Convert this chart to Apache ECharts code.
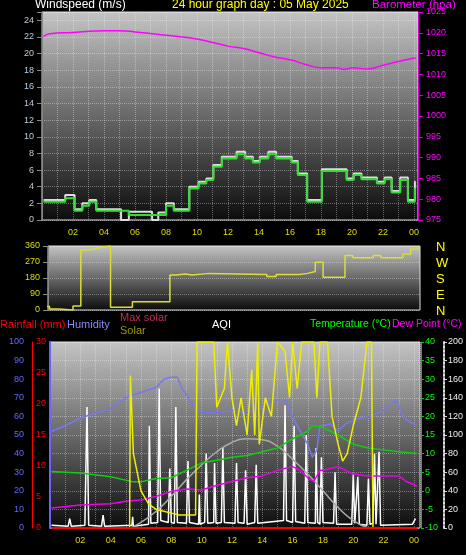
<!DOCTYPE html>
<html><head><meta charset="utf-8">
<script src="https://cdn.jsdelivr.net/npm/echarts@6/dist/echarts.min.js"></script>
<style>html,body{margin:0;background:#000}#c{width:466px;height:555px}</style>
</head><body><div id="c"></div>
<script>
/* ---------- data (hour of day, value) ---------- */
const windAvg = [[0.1,2.2],[1.5,2.6],[2.1,1.1],[2.6,1.7],[3.05,2.2],[3.5,1.1],[5.6,0.6],[7.5,0.6],[8.0,1.7],[8.5,1.1],[9.5,3.8],[10.1,4.4],[10.6,4.8],[11.05,6.4],[11.6,7.4],[12.55,7.9],[13.1,7.4],[13.6,6.9],[14.05,7.4],[14.6,7.9],[15.1,7.4],[16.1,6.9],[16.5,5.4],[17.1,2.2],[18.05,5.9],[19.65,4.8],[20.1,5.4],[20.6,4.9],[21.6,4.4],[22.1,4.9],[22.55,3.3],[23.1,4.8],[23.6,2.2],[24.05,3.8],[24.1,3.8]];
const windGust = [[0.1,2.4],[1.5,3.0],[2.1,1.3],[2.6,2.0],[3.05,2.4],[3.5,1.3],[5.1,0],[5.6,1.0],[7.1,0],[7.5,0.9],[8.0,2.0],[8.5,1.3],[9.5,4.0],[10.1,4.6],[10.6,5.0],[11.05,6.6],[11.6,7.6],[12.55,8.2],[13.1,7.6],[13.6,7.1],[14.05,7.6],[14.6,8.2],[15.1,7.6],[16.1,7.1],[16.5,5.6],[17.1,2.4],[18.05,6.1],[19.65,5.0],[20.1,5.6],[20.6,5.1],[21.6,4.6],[22.1,5.1],[22.55,3.5],[23.1,5.1],[23.6,2.4],[24.05,4.6],[24.1,4.6]];
const baro = [[0.1,1019.1],[0.5,1019.8],[2,1020.1],[4,1020.5],[5,1020.5],[6,1020.2],[8,1019.4],[10,1018.5],[12,1016.8],[13,1016.2],[14,1015.2],[15,1014.2],[16,1013.5],[17,1012.4],[18,1011.6],[19,1011.6],[19.5,1011.2],[20,1011.6],[21,1011.3],[22,1012.2],[23,1013.1],[24.1,1014.0]];
const windDir = [[0.1,19],[0.5,6],[1.1,0],[2.0,22],[2.5,338],[2.9,343],[3.4,352],[3.7,360],[4.4,15],[5.8,47],[8.2,197],[8.6,202],[9.2,197],[9.6,206],[10.7,200],[14.4,188],[15,200],[16.5,206],[17,216],[17.5,268],[18,184],[19.4,306],[19.9,294],[21.2,306],[21.7,294],[23.1,315],[23.6,343],[24.2,343]];
const humidity = [[0.1,52],[1,55],[2,59],[3,62],[4,64],[5,70],[6,73],[7,75.5],[7.5,80],[8,81],[8.4,81],[8.7,75],[9,72],[9.5,65],[10,62],[11,62],[12,63],[13,62],[14,66],[15,69],[15.5,69],[16,60],[16.3,55],[17,45],[17.3,38],[17.6,42],[17.8,55],[18,55],[18.5,56],[19,52],[19.5,56],[20,58],[21,60],[22,63],[22.8,69],[23.2,62],[23.5,58],[24.2,55]];
const temperature = [[0.1,5.2],[2,4.8],[4,3.8],[5.5,2.4],[6,2.4],[7,3.3],[8,3.5],[9,5.5],[10,7.5],[11,8.2],[12,9],[13,9.5],[14,10.5],[15,11.5],[16,14],[17,16],[17.3,17.5],[18,17],[18.5,16],[19,15],[20,12.5],[21,11.5],[22,11],[23,10.5],[24.2,10]];
const dewPoint = [[0.1,-4.6],[2,-3.8],[4,-3.5],[5,-2.8],[6,-2.5],[7,-1.5],[8,-0.2],[9,0.5],[10,0.2],[11,1.5],[12,2.5],[13,3.5],[14,4],[15,5.5],[16,6.5],[16.5,5.5],[17,3.5],[17.4,2.5],[17.8,5.5],[18,5.5],[19,6.5],[20,4.5],[21,4],[22,4],[23,4],[23.5,2.5],[24.2,1.3]];
const solar = [[0.1,0],[5.25,0],[5.3,82],[5.5,40],[6,20],[6.5,13],[7,10],[7.5,9],[8,8],[8.5,7],[9.6,7],[9.7,100],[10.8,100],[11,65],[11.5,75],[11.7,100],[12,70],[12.3,55],[12.6,70],[13,50],[13.3,85],[13.5,50],[13.7,100],[13.8,45],[14.2,70],[14.6,60],[15,100],[15.5,95],[15.8,70],[16,100],[16.3,75],[16.6,100],[17.4,100],[17.6,70],[17.8,100],[18.3,100],[18.6,60],[19,45],[19.3,36],[19.6,40],[20,55],[20.5,70],[20.9,100],[21.2,100],[21.3,0],[24.2,0]];
const maxSolar = [[5.3,0],[6,3],[7,9],[8,17],[9,26],[10,34],[11,41],[12,46],[13,48],[14,47.5],[15,44],[16,37],[17,29],[18,20],[19,11],[20,4],[21,0]];
const rainfall = [[0.1,0],[24.2,0]];
const aqi = [[0.1,3],[1.2,2],[1.3,10],[1.4,2],[2.3,3],[2.44,130],[2.55,3],[3.4,2],[3.5,14],[3.6,2],[5.4,3],[5.45,12],[5.5,2],[6.5,4],[6.55,110],[6.65,5],[7.1,6],[7.2,150],[7.3,8],[7.8,6],[7.9,64],[8.0,6],[8.2,5],[8.3,130],[8.4,6],[9.0,5],[9.1,72],[9.2,6],[9.8,4],[9.85,36],[9.9,4],[10.2,6],[10.3,80],[10.4,5],[10.8,6],[10.85,70],[10.95,5],[11.3,6],[11.4,86],[11.5,6],[12.2,5],[12.3,70],[12.4,6],[12.8,5],[12.9,62],[13.0,4],[13.5,6],[13.6,68],[13.7,5],[15.4,8],[15.5,132],[15.6,8],[16.0,6],[16.1,110],[16.2,7],[16.8,5],[16.9,100],[17.0,6],[17.5,5],[17.55,86],[17.65,6],[17.8,4],[17.9,76],[18.0,6],[18.7,5],[18.8,60],[18.9,4],[19.9,4],[20,58],[20.1,5],[20.2,3],[20.3,55],[20.4,4],[20.9,3],[21,53],[21.1,4],[21.3,5],[21.4,80],[21.5,4],[21.6,3],[21.7,82],[21.8,3],[23.9,4],[24.1,10]];

const hourLabel = v => (v % 2 === 0 && v > 0 ? String(v % 24).padStart(2, '0') : '');
const bg = { type:'linear', x:0, y:0, x2:0, y2:1, colorStops:[{offset:0,color:'#c4c4c4'},{offset:1,color:'#0c0c0c'}] };
const split = { show:true, lineStyle:{ color:'rgba(255,255,255,0.35)', type:'dotted', width:1 } };
const f = 'Liberation Sans';

const chart = echarts.init(document.getElementById('c'));
chart.setOption({
  backgroundColor:'#000',
  animation:false,
  textStyle:{ fontFamily:f },
  graphic:[
    { type:'text', left:35, top:-1, style:{ text:'Windspeed (m/s)', fill:'#fff', font:'12px '+f } },
    { type:'text', left:172, top:-1, style:{ text:'24 hour graph day : 05 May 2025', fill:'#ff0', font:'12px '+f } },
    { type:'text', left:372, top:-1, style:{ text:'Barometer (hpa)', fill:'#f0f', font:'11.5px '+f } },
    { type:'text', left:436, top:239, style:{ text:'N\nW\nS\nE\nN', fill:'#ff0', font:'13px '+f, lineHeight:16 } },
    { type:'text', left:0, top:319, style:{ text:'Rainfall (mm)', fill:'#f00', font:'11px '+f } },
    { type:'text', left:67, top:319, style:{ text:'Humidity', fill:'#88f', font:'11px '+f } },
    { type:'text', left:120, top:312, style:{ text:'Max solar', fill:'#c03050', font:'11px '+f } },
    { type:'text', left:120, top:325, style:{ text:'Solar', fill:'#990', font:'11px '+f } },
    { type:'text', left:212, top:319, style:{ text:'AQI', fill:'#fff', font:'11px '+f } },
    { type:'text', left:310, top:319, style:{ text:'Temperature (°C)', fill:'#0f0', font:'10.5px '+f } },
    { type:'text', left:392, top:319, style:{ text:'Dew Point (°C)', fill:'#f0f', font:'10.5px '+f } }
  ],
  grid:[
    { left:42, right:48, top:12, bottom:335, show:true, backgroundColor:bg, borderColor:'#ddd', borderWidth:1 },
    { left:48, right:46, top:246, bottom:245, show:true, backgroundColor:bg, borderColor:'#ddd', borderWidth:1 },
    { left:50, right:45, top:342, bottom:27, show:true, backgroundColor:bg, borderColor:'#ddd', borderWidth:1 }
  ],
  xAxis:[
    { type:'value', gridIndex:0, min:0, max:24.25, interval:1, axisLine:{show:false}, axisTick:{show:false},
      axisLabel:{ formatter:hourLabel, color:'#dd0', fontSize:9, margin:8, showMaxLabel:false }, splitLine:split },
    { type:'value', gridIndex:1, min:0.4, max:24.2, show:false },
    { type:'value', gridIndex:2, min:0, max:24.4, interval:1, axisLine:{show:false}, axisTick:{show:false},
      axisLabel:{ formatter:hourLabel, color:'#dd0', fontSize:9, margin:8, showMaxLabel:false }, splitLine:split }
  ],
  yAxis:[
    { type:'value', gridIndex:0, min:0, max:25, interval:2, axisLine:{show:true,lineStyle:{color:'#888'}}, axisTick:{show:true,lineStyle:{color:'#888'}},
      axisLabel:{ color:'#bcd', fontSize:9, formatter:v => v > 24 ? '' : v }, splitLine:split },
    { type:'value', gridIndex:0, position:'right', min:975, max:1025, interval:5, axisLine:{show:true,lineStyle:{color:'#c0c'}}, axisTick:{show:true,lineStyle:{color:'#c0c'}},
      axisLabel:{ color:'#f0f', fontSize:9, formatter:v => String(v) }, splitLine:{show:false} },
    { type:'value', gridIndex:1, min:0, max:360, interval:90, axisLine:{show:true,lineStyle:{color:'#888'}}, axisTick:{show:true,lineStyle:{color:'#888'}},
      axisLabel:{ color:'#dd0', fontSize:9 }, splitLine:split },
    { type:'value', gridIndex:2, position:'left', offset:21, min:0, max:100, interval:10, axisLine:{show:true,lineStyle:{color:'#66f',width:2}}, axisTick:{show:false},
      axisLabel:{ color:'#66f', fontSize:9, margin:5 }, splitLine:split },
    { type:'value', gridIndex:2, position:'left', offset:18, min:0, max:30, interval:5, axisLine:{show:true,lineStyle:{color:'#f00',width:1}}, axisTick:{show:false},
      axisLabel:{ color:'#f00', fontSize:9, inside:true, margin:4 }, splitLine:{show:false} },
    { type:'value', gridIndex:2, position:'right', offset:1, min:-10, max:40, interval:5, axisLine:{show:true,lineStyle:{color:'#0c0'}}, axisTick:{show:true,length:3,lineStyle:{color:'#0c0'}},
      axisLabel:{ color:'#0f0', fontSize:9, margin:4 }, splitLine:{show:false} },
    { type:'value', gridIndex:2, position:'right', offset:24, min:0, max:200, interval:20, axisLine:{show:true,lineStyle:{color:'#ddd',type:'dotted',width:2}}, axisTick:{show:true,length:3,lineStyle:{color:'#ddd'}},
      axisLabel:{ color:'#eee', fontSize:9, margin:4 }, splitLine:{show:false} }
  ],
  series:[
    { type:'line', xAxisIndex:0, yAxisIndex:0, data:windGust, step:'end', symbol:'none', lineStyle:{color:'#ddd',width:2} },
    { type:'line', xAxisIndex:0, yAxisIndex:0, data:windAvg, step:'end', symbol:'none', lineStyle:{color:'#3d3',width:2} },
    { type:'line', xAxisIndex:0, yAxisIndex:1, data:baro, smooth:true, symbol:'none', lineStyle:{color:'#f0f',width:1.5} },
    { type:'line', xAxisIndex:1, yAxisIndex:2, data:windDir, step:'end', symbol:'none', lineStyle:{color:'#dd3',width:1.5} },
    { type:'line', xAxisIndex:2, yAxisIndex:6, data:aqi, symbol:'none', lineStyle:{color:'#fff',width:1.5} },
    { type:'line', xAxisIndex:2, yAxisIndex:3, data:maxSolar, smooth:true, symbol:'none', lineStyle:{color:'#aaa',width:1.5} },
    { type:'line', xAxisIndex:2, yAxisIndex:3, data:humidity, symbol:'none', lineStyle:{color:'#77e',width:1.5} },
    { type:'line', xAxisIndex:2, yAxisIndex:5, data:temperature, symbol:'none', lineStyle:{color:'#1c1',width:1.5} },
    { type:'line', xAxisIndex:2, yAxisIndex:5, data:dewPoint, symbol:'none', lineStyle:{color:'#e0e',width:1.5} },
    { type:'line', xAxisIndex:2, yAxisIndex:3, data:solar, symbol:'none', lineStyle:{color:'#ee0',width:1.5} },
    { type:'line', xAxisIndex:2, yAxisIndex:4, data:rainfall, symbol:'none', lineStyle:{color:'#f00',width:2} }
  ]
});
</script></body></html>
